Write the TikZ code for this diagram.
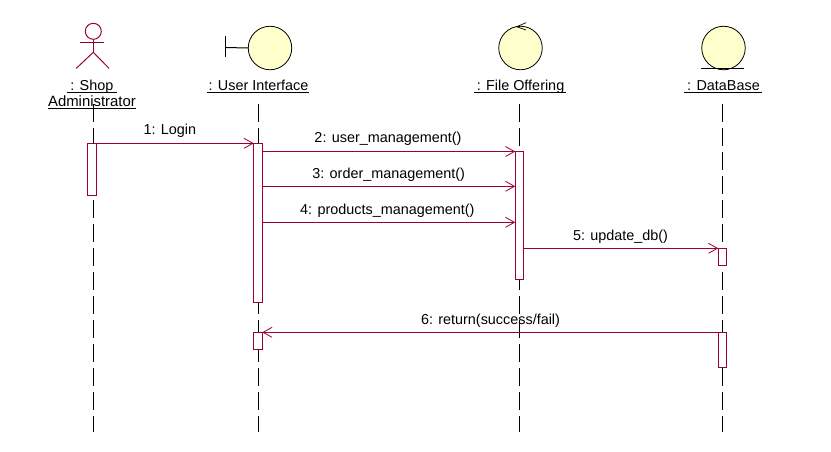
\documentclass[tikz,border=0pt]{standalone}
\usepackage{fontspec}
\setmainfont{Liberation Sans}
\usetikzlibrary{arrows.meta}
\definecolor{rose}{HTML}{990033}
\definecolor{iconfill}{HTML}{FFFFCC}
\tikzset{
  lifeline/.style={draw=black,line width=1pt,dash pattern=on 18pt off 6pt},
  activation/.style={draw=rose,fill=white,line width=1pt,inner sep=0pt,outer sep=0pt,minimum width=8.5pt,anchor=north},
  msg/.style={draw=rose,line width=1pt,-{Straight Barb[length=9pt,width=10pt,line width=0.8pt]}},
  msglabel/.style={anchor=base,inner sep=0pt,text=black,font=\fontsize{14.4}{16}\selectfont},
  roletext/.style={anchor=base,inner sep=0pt,text=black,font=\fontsize{14.4}{16}\selectfont},
  uline/.style={draw=black,line width=1pt},
  icon/.style={draw=black,fill=iconfill,line width=0.8pt,circle,inner sep=0pt,outer sep=0pt,minimum size=43.5pt},
  iconline/.style={draw=black,line width=1pt},
  actorline/.style={draw=rose,line width=1pt}
}
\begin{document}
\begin{tikzpicture}[x=1pt,y=-1pt]
\useasboundingbox (0,0) rectangle (831,451);
% lifelines
\coordinate (la) at (93.3,104); \coordinate (lae) at (93.3,432);
\coordinate (lb) at (258.3,104); \coordinate (lbe) at (258.3,432);
\coordinate (lc) at (519.3,104); \coordinate (lce) at (519.3,432);
\coordinate (ld) at (722.7,104); \coordinate (lde) at (722.7,432);
\draw[lifeline] (la) -- (lae);
\draw[lifeline] (lb) -- (lbe);
\draw[lifeline] (lc) -- (lce);
\draw[lifeline] (ld) -- (lde);
% activations
\node[activation,minimum height=52pt] (a1) at (92,143.3) {};
\node[activation,minimum height=159pt] (b1) at (258,143.3) {};
\node[activation,minimum height=17pt] (b2) at (258,332.3) {};
\node[activation,minimum height=127.5pt] (c1) at (519.5,151.5) {};
\node[activation,minimum height=17pt] (d1) at (722.5,248.3) {};
\node[activation,minimum height=35pt] (d2) at (722.5,332.3) {};
% actor
\node[draw=rose,line width=1pt,circle,inner sep=0pt,minimum size=16pt] (head) at (93.3,31.3) {};
\coordinate (crotch) at (93.3,52.3);
\coordinate (armL) at (80,42.3); \coordinate (armR) at (104,42.3);
\coordinate (legL) at (76.3,68.3); \coordinate (legR) at (109,68.3);
\draw[actorline] (head.south) -- (crotch);
\draw[actorline] (armL) -- (armR);
\draw[actorline] (legL) -- (crotch) -- (legR);
% boundary
\node[icon] (ui) at (270,48) {};
\coordinate (barT) at (225.3,36); \coordinate (barB) at (225.3,57.3);
\coordinate (barM) at (225.3,47.5);
\draw[iconline] (barT) -- (barB);
\draw[iconline] (barM) -- (ui.west);
% control
\node[icon] (fo) at (520.5,48) {};
\coordinate (ctlV) at (516.7,26.7);
\coordinate (ctlA) at (526,22.7); \coordinate (ctlB) at (526,30);
\draw[iconline,line width=0.7pt] (ctlA) -- (ctlV) -- (ctlB);
% entity
\node[icon] (db) at (723.5,48) {};
\coordinate (entL) at (701,68.4); \coordinate (entR) at (744.3,68.4);
\draw[iconline] (entL) -- (entR);
% role names
\node[roletext] (t1) at (91.8,90) {: Shop};
\draw[uline] (67,92.3) -- (116.7,92.3);
\node[roletext,font=\fontsize{14.9}{16}\selectfont] (t1b) at (92,106) {Administrator};
\draw[uline] (48,108.3) -- (136,108.3);
\node[roletext] (t2) at (258.5,90) {: User Interface};
\draw[uline] (207,92.3) -- (308.7,92.3);
\node[roletext] (t3) at (520.5,90) {: File Offering};
\draw[uline] (474,92.3) -- (566,92.3);
\node[roletext] (t4) at (723.5,90) {: DataBase};
\draw[uline] (684,92.3) -- (762,92.3);
% messages
\draw[msg] (a1.north east) -- (b1.north west);
\draw[msg] (b1.east |- c1.north) -- (c1.north west);
\coordinate (y3) at (0,186.3); \coordinate (y4) at (0,222.3);
\draw[msg] (b1.east |- y3) -- (c1.west |- y3);
\draw[msg] (b1.east |- y4) -- (c1.west |- y4);
\draw[msg] (c1.east |- d1.north) -- (d1.north west);
\draw[msg] (d2.north west) -- (b2.north east);
\node[msglabel] (m1) at (169.8,134) {1: Login};
\node[msglabel] (m2) at (388,142.7) {2: user\_management()};
\node[msglabel] (m3) at (388.7,178.3) {3: order\_management()};
\node[msglabel] (m4) at (387.3,214.3) {4: products\_management()};
\node[msglabel] (m5) at (620.5,240.3) {5: update\_db()};
\node[msglabel] (m6) at (490.5,324) {6: return(success/fail)};
\end{tikzpicture}
\end{document}
